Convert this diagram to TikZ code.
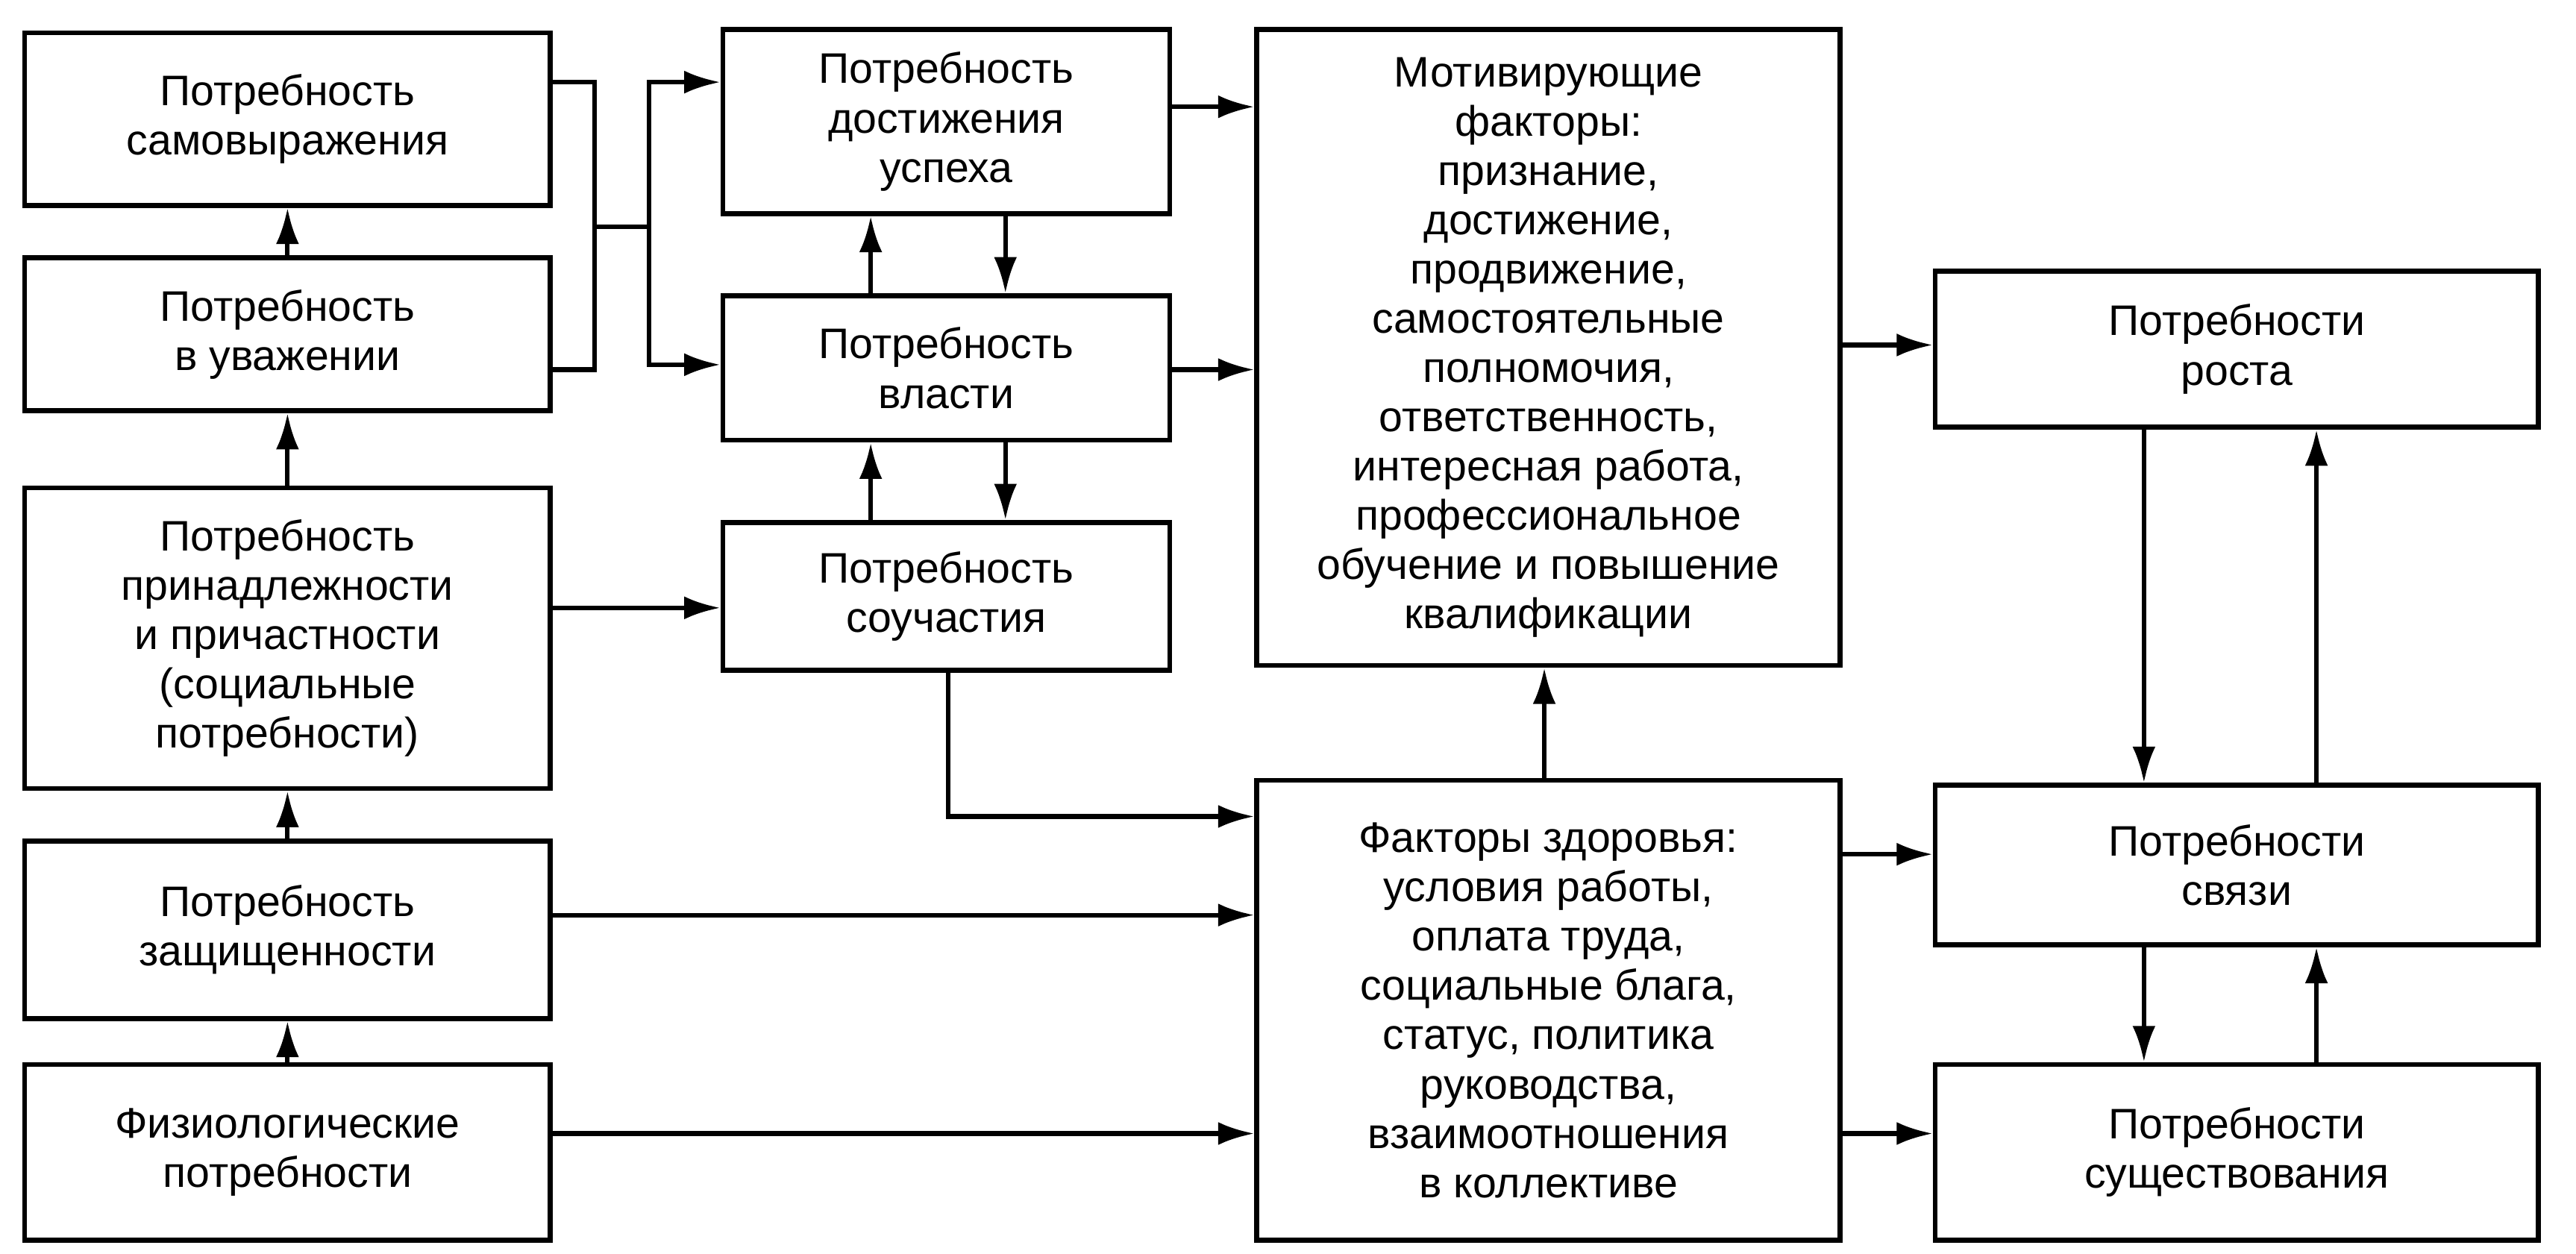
\documentclass[tikz,border=0pt]{standalone}
\usepackage{fontspec}
\setmainfont{Liberation Sans}
\usetikzlibrary{arrows.meta}
\begin{document}
\begin{tikzpicture}[x=1pt,y=-1pt,
 box/.style={draw,line width=3pt,align=center,inner sep=0pt,font=\fontsize{26}{30}\selectfont},
 ar/.style={line width=2.8pt,-{Latex[length=22pt,width=14pt]}},
 ln/.style={line width=2.8pt}]
\useasboundingbox (0,0) rectangle (1568,763);
\newcommand{\bx}[6]{\node[box,minimum width={#4-#2},minimum height={#5-#3}] (#1) at ({(#2+#4)/2},{(#3+#5)/2}) {#6};}
\bx{A}{15}{20}{335}{125}{Потребность\\самовыражения}
\bx{B}{15}{157}{335}{250}{Потребность\\в уважении}
\bx{C}{15}{297}{335}{480}{Потребность\\принадлежности\\и причастности\\(социальные\\потребности)}
\bx{D}{15}{512}{335}{620}{Потребность\\защищенности}
\bx{E}{15}{648}{335}{755}{Физиологические\\потребности}
\bx{F}{440}{18}{712}{130}{Потребность\\достижения\\успеха}
\bx{G}{440}{180}{712}{268}{Потребность\\власти}
\bx{H}{440}{318}{712}{408}{Потребность\\соучастия}
\bx{M}{765}{18}{1120}{405}{Мотивирующие\\факторы:\\признание,\\достижение,\\продвижение,\\самостоятельные\\полномочия,\\ответственность,\\интересная работа,\\профессиональное\\обучение и повышение\\квалификации}
\bx{Z}{765}{475}{1120}{755}{Факторы здоровья:\\условия работы,\\оплата труда,\\социальные блага,\\статус, политика\\руководства,\\взаимоотношения\\в коллективе}
\bx{R}{1178}{165}{1545}{260}{Потребности\\роста}
\bx{S}{1178}{478}{1545}{575}{Потребности\\связи}
\bx{T}{1178}{648}{1545}{755}{Потребности\\существования}
% left column
\draw[ar] (E.north) -- (D.south);
\draw[ar] (D.north) -- (C.south);
\draw[ar] (C.north) -- (B.south);
\draw[ar] (B.north) -- (A.south);
% bracket
\draw[ln] (A.east |- 0,50) -- (362,50) -- (362,225) -- (B.east |- 0,225);
\draw[ln] (362,138) -- (395,138);
\draw[ar] (395,138) -- (395,50) -- (F.west |- 0,50);
\draw[ar] (395,138) -- (395,222) -- (G.west |- 0,222);
% middle
\draw[ar] (G.north -| 530,0) -- (F.south -| 530,0);
\draw[ar] (F.south -| 612,0) -- (G.north -| 612,0);
\draw[ar] (H.north -| 530,0) -- (G.south -| 530,0);
\draw[ar] (G.south -| 612,0) -- (H.north -| 612,0);
\draw[ar] (C.east |- 0,370) -- (H.west |- 0,370);
\draw[ar] (H.south -| 577,0) -- (577,497) -- (Z.west |- 0,497);
\draw[ar] (D.east |- 0,557) -- (Z.west |- 0,557);
\draw[ar] (E.east |- 0,690) -- (Z.west |- 0,690);
\draw[ar] (F.east |- 0,65) -- (M.west |- 0,65);
\draw[ar] (G.east |- 0,225) -- (M.west |- 0,225);
\draw[ar] (Z.north -| 940,0) -- (M.south -| 940,0);
% right
\draw[ar] (M.east |- 0,210) -- (R.west |- 0,210);
\draw[ar] (Z.east |- 0,520) -- (S.west |- 0,520);
\draw[ar] (Z.east |- 0,690) -- (T.west |- 0,690);
\draw[ar] (R.south -| 1305,0) -- (S.north -| 1305,0);
\draw[ar] (S.north -| 1410,0) -- (R.south -| 1410,0);
\draw[ar] (S.south -| 1305,0) -- (T.north -| 1305,0);
\draw[ar] (T.north -| 1410,0) -- (S.south -| 1410,0);
\end{tikzpicture}
\end{document}
